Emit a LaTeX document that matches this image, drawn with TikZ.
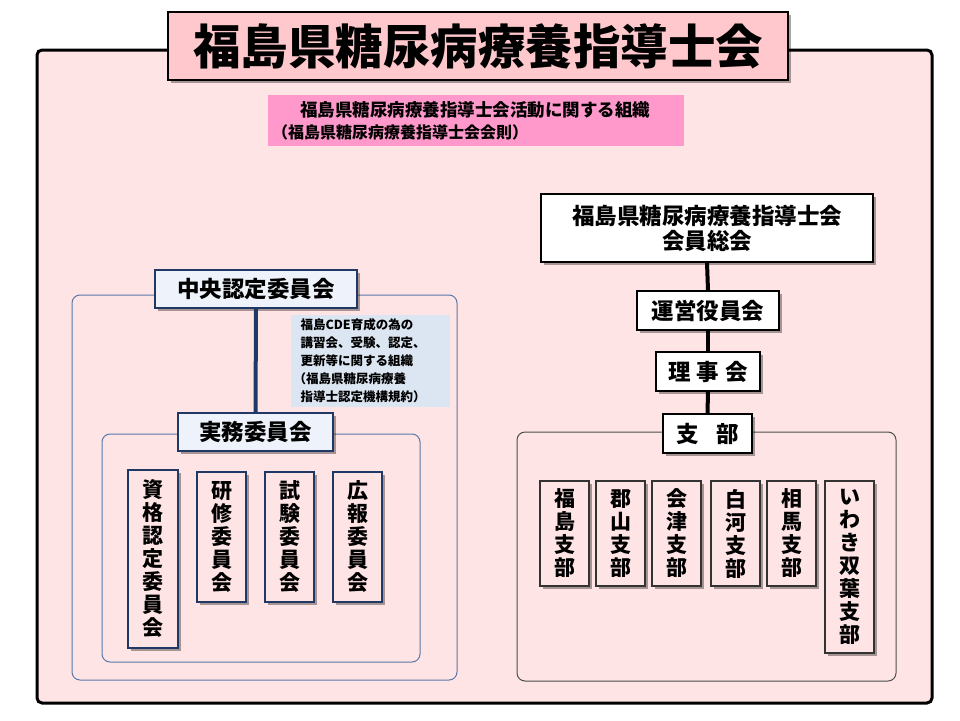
\documentclass[tikz,border=0pt]{standalone}
\usepackage{fontspec}
\setmainfont{Noto Sans CJK JP}
\usetikzlibrary{shadows}
\definecolor{framefill}{RGB}{255,228,230}
\definecolor{titlefill}{RGB}{255,200,204}
\definecolor{pinkbox}{RGB}{255,153,204}
\definecolor{notefill}{RGB}{220,230,242}
\definecolor{navy}{RGB}{31,56,100}
\definecolor{cborder}{RGB}{90,120,170}
\definecolor{lightbox}{RGB}{238,243,251}
\begin{document}
\begin{tikzpicture}[x=1pt,y=-1pt,
  shd/.style={drop shadow={shadow xshift=2.5pt,shadow yshift=-2.5pt,opacity=.35,fill=black}},
  titlebox/.style={draw=black,line width=1.5pt,fill=titlefill,shd,inner sep=0pt,
     font=\fontsize{47.5}{50}\selectfont\bfseries},
  navybox/.style={draw=navy,line width=1.5pt,fill=lightbox,shd,inner sep=0pt,
     font=\fontsize{22.5}{25}\selectfont\bfseries},
  blackbox/.style={draw=black,line width=1.5pt,fill=white,shd,inner sep=0pt,
     font=\fontsize{22.5}{25}\selectfont\bfseries},
  vnavy/.style={draw=navy,line width=1.3pt,fill=framefill,shd,inner sep=0pt,align=center,
     font=\fontsize{21}{23}\selectfont\bfseries},
  vblack/.style={draw=black!80,line width=1.3pt,fill=framefill,shd,inner sep=0pt,align=center,
     font=\fontsize{21}{23}\selectfont\bfseries},
  container/.style={rounded corners=8pt,line width=1pt},
  navyline/.style={draw=navy,line width=4pt},
  blackline/.style={draw=black,line width=4pt}
]
\useasboundingbox (0,0) rectangle (960,720);
\fill[white] (0,0) rectangle (960,720);
% outer frame
\draw[line width=3pt,fill=framefill,rounded corners=5pt] (37,50) rectangle (932,703);
% title
\node[titlebox,minimum width=620pt,minimum height=68pt] (title) at (478,46) {福島県糖尿病療養指導士会\hspace{18pt}};
% pink box
\node[fill=pinkbox,minimum width=416pt,minimum height=51pt,inner sep=0pt] (pink) at (476,120.5) {};
\node[font=\fontsize{17.5}{20}\selectfont\bfseries,inner sep=0pt] (pk1) at (475,110) {福島県糖尿病療養指導士会活動に関する組織};
\node[font=\fontsize{16}{18}\selectfont\bfseries,inner sep=0pt,anchor=west] (pk2) at (272,132) {（福島県糖尿病療養指導士会会則）};

% left containers
\draw[container,draw=cborder] (72,295) rectangle (457,680);
\draw[container,draw=cborder] (102,434) rectangle (420,662);
% note
\node[fill=notefill,minimum width=159pt,minimum height=92pt,inner sep=0pt,text width=140pt,align=left,
  font=\fontsize{12.5}{18}\selectfont\bfseries] (note) at (370.5,361)
  {福島CDE育成の為の\\講習会、受験、認定、\\更新等に関する組織\\\hspace{-7pt}（福島県糖尿病療養\\指導士認定機構規約）};
% left boxes
\node[navybox,minimum width=202pt,minimum height=38pt] (chuo) at (256,289) {中央認定委員会};
\node[navybox,minimum width=155pt,minimum height=38pt] (jitsumu) at (255.5,432) {実務委員会};
\draw[navyline] (chuo.south) -- (jitsumu.north);
\node[vnavy,minimum width=50pt,minimum height=178pt] (shikaku) at (153,559) {資\\格\\認\\定\\委\\員\\会};
\node[vnavy,minimum width=49pt,minimum height=130pt] (kenshu) at (221.5,537) {研\\修\\委\\員\\会};
\node[vnavy,minimum width=49pt,minimum height=130pt] (shiken) at (289.5,537) {試\\験\\委\\員\\会};
\node[vnavy,minimum width=49pt,minimum height=130pt] (koho) at (357.5,537) {広\\報\\委\\員\\会};

% right side
\draw[container,draw=black!70] (517,432) rectangle (896,681);
\node[blackbox,minimum width=332pt,minimum height=68pt,align=center] (sokai) at (707,228) {福島県糖尿病療養指導士会\\会員総会};
\node[blackbox,minimum width=142pt,minimum height=39pt] (unei) at (708,310.5) {運営役員会};
\node[blackbox,minimum width=104pt,minimum height=39pt] (riji) at (708,371.5) {理\hspace{6pt}事\hspace{6pt}会};
\node[blackbox,minimum width=89pt,minimum height=39pt] (shibu) at (707.5,433.5) {支\hspace{18pt}部};
\draw[blackline] (sokai.south) -- (unei.north);
\draw[blackline] (unei.south) -- (riji.north);
\draw[blackline] (riji.south) -- (shibu.north);
\node[vblack,minimum width=49pt,minimum height=105pt] (fukushima) at (564.5,533.5) {福\\島\\支\\部};
\node[vblack,minimum width=49pt,minimum height=105pt] (koriyama) at (620.5,533.5) {郡\\山\\支\\部};
\node[vblack,minimum width=49pt,minimum height=105pt] (aizu) at (676.5,533.5) {会\\津\\支\\部};
\node[vblack,minimum width=49pt,minimum height=105pt] (shirakawa) at (735.5,533.5) {白\\河\\支\\部};
\node[vblack,minimum width=49pt,minimum height=105pt] (soma) at (791.5,533.5) {相\\馬\\支\\部};
\node[vblack,minimum width=49pt,minimum height=172pt] (iwaki) at (849.5,567) {い\\わ\\き\\双\\葉\\支\\部};
\end{tikzpicture}
\end{document}
